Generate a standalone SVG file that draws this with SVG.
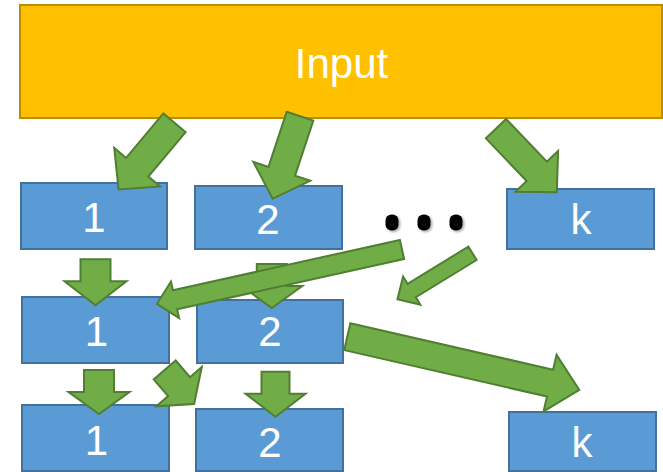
<svg xmlns="http://www.w3.org/2000/svg" width="663" height="472" viewBox="0 0 663 472">
<style>
.box{fill:#5B9BD5;stroke:#41719C;stroke-width:2}
.inp{fill:#FFC000;stroke:#BC8C00;stroke-width:2}
.lbl{font-family:"Liberation Sans",Arial,sans-serif;font-size:42px;fill:#FFFFFF;text-anchor:middle}
.arr{fill:#70AD47;stroke:#507E32;stroke-width:2;stroke-linejoin:miter}
.dot{fill:#000000}
</style>
<defs>
<filter id="sh" x="-50%" y="-50%" width="200%" height="200%">
<feDropShadow dx="1.5" dy="1.5" stdDeviation="1.2" flood-color="#000" flood-opacity="0.35"/>
</filter>
</defs>
<g id="input"><rect class="inp" x="20" y="5" width="642" height="113"/><text class="lbl" x="341.5" y="78">Input</text></g>
<g id="r1b1"><rect class="box" x="21" y="183" width="146" height="66"/><text class="lbl" x="94" y="232">1</text></g>
<g id="r1b2"><rect class="box" x="195" y="186" width="147" height="63"/><text class="lbl" x="268" y="234">2</text></g>
<g id="r1bk"><rect class="box" x="507" y="189" width="147" height="60"/><text class="lbl" x="581" y="234">k</text></g>
<g id="dots" filter="url(#sh)"><rect class="dot" x="385.5" y="214.5" width="13" height="16" rx="6"/><rect class="dot" x="417.5" y="214.5" width="13" height="16" rx="6"/><rect class="dot" x="449.5" y="214.5" width="13" height="16" rx="6"/></g>
<g id="r2b1"><rect class="box" x="22" y="297" width="147" height="66"/><text class="lbl" x="96.5" y="346">1</text></g>
<g id="r2b2"><rect class="box" x="197" y="300" width="146" height="63"/><text class="lbl" x="270" y="346">2</text></g>
<g id="r3b1"><rect class="box" x="22" y="405" width="147" height="66"/><text class="lbl" x="96.5" y="455">1</text></g>
<g id="r3b2"><rect class="box" x="196" y="409" width="147" height="62"/><text class="lbl" x="270" y="456.5">2</text></g>
<g id="r3bk"><rect class="box" x="509" y="412" width="147" height="59"/><text class="lbl" x="582" y="456.5">k</text></g>
<g id="connectors">
<polygon class="arr" transform="translate(174.5,122.8) rotate(130)" points="0,-14.5 58,-14.5 58,-30 87,0 58,30 58,14.5 0,14.5"/>
<polygon class="arr" transform="translate(300,116.2) rotate(108.3)" points="0,-14 58,-14 58,-30 87,0 58,30 58,14 0,14"/>
<polygon class="arr" transform="translate(496,128.7) rotate(46.3)" points="0,-14 59,-14 59,-29.5 88,0 59,29.5 59,14 0,14"/>
<polygon class="arr" transform="translate(95.5,259.3) rotate(90)" points="0,-15 22,-15 22,-31 46,0 22,31 22,15 0,15"/>
<polygon class="arr" transform="translate(271.8,264) rotate(90)" points="0,-15 22,-15 22,-30.5 44,0 22,30.5 22,15 0,15"/>
<polygon class="arr" transform="translate(99,370) rotate(90)" points="0,-15 22,-15 22,-30.5 44,0 22,30.5 22,15 0,15"/>
<polygon class="arr" transform="translate(275.5,371.7) rotate(90)" points="0,-14 22,-14 22,-30 45,0 22,30 22,14 0,14"/>
<polygon class="arr" transform="translate(164.7,370) rotate(49.2)" points="0,-14.5 22,-14.5 22,-30 45,0 22,30 22,14.5 0,14.5"/>
<polygon class="arr" transform="translate(402,249.5) rotate(167.5)" points="0,-9.75 232.5,-9.75 232.5,-18.75 251,0 232.5,18.75 232.5,9.75 0,9.75"/>
<polygon class="arr" transform="translate(472.5,253.3) rotate(148.5)" points="0,-7.85 71.3,-7.85 71.3,-16.5 88,0 71.3,16.5 71.3,7.85 0,7.85"/>
<polygon class="arr" transform="translate(347.3,336.7) rotate(12.9)" points="0,-13.75 208,-13.75 208,-29 238,0 208,29 208,13.75 0,13.75"/>
</g>
</svg>
